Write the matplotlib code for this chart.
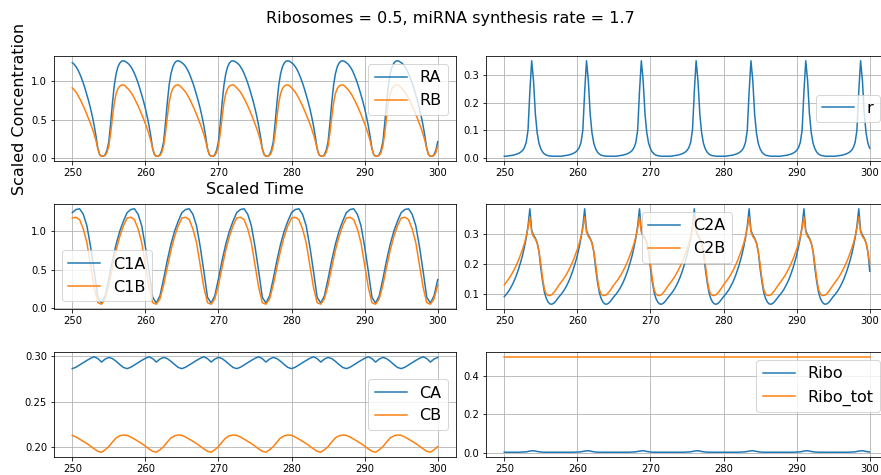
import numpy as np
import matplotlib
matplotlib.use("Agg")
import matplotlib.pyplot as plt

# time axes (scaled time)
t_coarse = np.arange(250.0, 300.001, 0.5)
t_fine = np.arange(250.0, 300.001, 0.25)

RA = [
    1.245, 1.225, 1.195, 1.155, 1.105, 1.045, 0.980, 0.905, 0.825, 0.740, 0.645, 0.540, 0.420, 0.280, 0.120,
    0.040, 0.020, 0.020, 0.040, 0.100, 0.210, 0.450, 0.720, 0.950, 1.100, 1.190, 1.240, 1.265, 1.270, 1.262,
    1.245, 1.225, 1.195, 1.155, 1.105, 1.045, 0.980, 0.905, 0.825, 0.740, 0.645, 0.540, 0.420, 0.280, 0.120,
    0.040, 0.020, 0.020, 0.040, 0.100, 0.210, 0.450, 0.720, 0.950, 1.100, 1.190, 1.240, 1.265, 1.270, 1.262,
    1.245, 1.225, 1.195, 1.155, 1.105, 1.045, 0.980, 0.905, 0.825, 0.740, 0.645, 0.540, 0.420, 0.280, 0.120,
    0.040, 0.020, 0.020, 0.040, 0.100, 0.210, 0.450, 0.720, 0.950, 1.100, 1.190, 1.240, 1.265, 1.270, 1.262,
    1.245, 1.225, 1.195, 1.155, 1.105, 1.045, 0.980, 0.905, 0.825, 0.740, 0.645, 0.540, 0.420, 0.280, 0.120,
    0.040, 0.020, 0.020, 0.040, 0.100, 0.210, 0.450, 0.720, 0.950, 1.100, 1.190, 1.240, 1.265, 1.270, 1.262,
    1.245, 1.225, 1.195, 1.155, 1.105, 1.045, 0.980, 0.905, 0.825, 0.740, 0.645, 0.540, 0.420, 0.280, 0.120,
    0.040, 0.020, 0.020, 0.040, 0.100, 0.210, 0.450, 0.720, 0.950, 1.100, 1.190, 1.240, 1.265, 1.270, 1.262,
    1.245, 1.225, 1.195, 1.155, 1.105, 1.045, 0.980, 0.905, 0.825, 0.740, 0.645, 0.540, 0.420, 0.280, 0.120,
    0.040, 0.020, 0.020, 0.040, 0.100, 0.210, 0.450, 0.720, 0.950, 1.100, 1.190, 1.240, 1.265, 1.270, 1.262,
    1.245, 1.225, 1.195, 1.155, 1.105, 1.045, 0.980, 0.905, 0.825, 0.740, 0.645, 0.540, 0.420, 0.280, 0.120,
    0.040, 0.020, 0.020, 0.040, 0.100, 0.210,
]
RB = [
    0.915, 0.890, 0.860, 0.822, 0.778, 0.730, 0.680, 0.625, 0.568, 0.508, 0.445, 0.378, 0.305, 0.220, 0.115,
    0.042, 0.021, 0.020, 0.030, 0.070, 0.155, 0.320, 0.530, 0.720, 0.840, 0.905, 0.938, 0.952, 0.955, 0.940,
    0.915, 0.890, 0.860, 0.822, 0.778, 0.730, 0.680, 0.625, 0.568, 0.508, 0.445, 0.378, 0.305, 0.220, 0.115,
    0.042, 0.021, 0.020, 0.030, 0.070, 0.155, 0.320, 0.530, 0.720, 0.840, 0.905, 0.938, 0.952, 0.955, 0.940,
    0.915, 0.890, 0.860, 0.822, 0.778, 0.730, 0.680, 0.625, 0.568, 0.508, 0.445, 0.378, 0.305, 0.220, 0.115,
    0.042, 0.021, 0.020, 0.030, 0.070, 0.155, 0.320, 0.530, 0.720, 0.840, 0.905, 0.938, 0.952, 0.955, 0.940,
    0.915, 0.890, 0.860, 0.822, 0.778, 0.730, 0.680, 0.625, 0.568, 0.508, 0.445, 0.378, 0.305, 0.220, 0.115,
    0.042, 0.021, 0.020, 0.030, 0.070, 0.155, 0.320, 0.530, 0.720, 0.840, 0.905, 0.938, 0.952, 0.955, 0.940,
    0.915, 0.890, 0.860, 0.822, 0.778, 0.730, 0.680, 0.625, 0.568, 0.508, 0.445, 0.378, 0.305, 0.220, 0.115,
    0.042, 0.021, 0.020, 0.030, 0.070, 0.155, 0.320, 0.530, 0.720, 0.840, 0.905, 0.938, 0.952, 0.955, 0.940,
    0.915, 0.890, 0.860, 0.822, 0.778, 0.730, 0.680, 0.625, 0.568, 0.508, 0.445, 0.378, 0.305, 0.220, 0.115,
    0.042, 0.021, 0.020, 0.030, 0.070, 0.155, 0.320, 0.530, 0.720, 0.840, 0.905, 0.938, 0.952, 0.955, 0.940,
    0.915, 0.890, 0.860, 0.822, 0.778, 0.730, 0.680, 0.625, 0.568, 0.508, 0.445, 0.378, 0.305, 0.220, 0.115,
    0.042, 0.021, 0.020, 0.030, 0.070, 0.155,
]
r = [
    0.005, 0.005, 0.006, 0.007, 0.008, 0.009, 0.011, 0.013, 0.016, 0.020, 0.026, 0.036, 0.055, 0.100, 0.240,
    0.352, 0.280, 0.160, 0.090, 0.052, 0.032, 0.020, 0.013, 0.009, 0.007, 0.006, 0.005, 0.005, 0.005, 0.005,
    0.005, 0.005, 0.006, 0.007, 0.008, 0.009, 0.011, 0.013, 0.016, 0.020, 0.026, 0.036, 0.055, 0.100, 0.240,
    0.352, 0.280, 0.160, 0.090, 0.052, 0.032, 0.020, 0.013, 0.009, 0.007, 0.006, 0.005, 0.005, 0.005, 0.005,
    0.005, 0.005, 0.006, 0.007, 0.008, 0.009, 0.011, 0.013, 0.016, 0.020, 0.026, 0.036, 0.055, 0.100, 0.240,
    0.352, 0.280, 0.160, 0.090, 0.052, 0.032, 0.020, 0.013, 0.009, 0.007, 0.006, 0.005, 0.005, 0.005, 0.005,
    0.005, 0.005, 0.006, 0.007, 0.008, 0.009, 0.011, 0.013, 0.016, 0.020, 0.026, 0.036, 0.055, 0.100, 0.240,
    0.352, 0.280, 0.160, 0.090, 0.052, 0.032, 0.020, 0.013, 0.009, 0.007, 0.006, 0.005, 0.005, 0.005, 0.005,
    0.005, 0.005, 0.006, 0.007, 0.008, 0.009, 0.011, 0.013, 0.016, 0.020, 0.026, 0.036, 0.055, 0.100, 0.240,
    0.352, 0.280, 0.160, 0.090, 0.052, 0.032, 0.020, 0.013, 0.009, 0.007, 0.006, 0.005, 0.005, 0.005, 0.005,
    0.005, 0.005, 0.006, 0.007, 0.008, 0.009, 0.011, 0.013, 0.016, 0.020, 0.026, 0.036, 0.055, 0.100, 0.240,
    0.352, 0.280, 0.160, 0.090, 0.052, 0.032, 0.020, 0.013, 0.009, 0.007, 0.006, 0.005, 0.005, 0.005, 0.005,
    0.005, 0.005, 0.006, 0.007, 0.008, 0.009, 0.011, 0.013, 0.016, 0.020, 0.026, 0.036, 0.055, 0.100, 0.240,
    0.352, 0.280, 0.160, 0.090, 0.052, 0.034,
]
C1A = [
    1.24, 1.28, 1.29, 1.22, 1.07, 0.80, 0.48, 0.14, 0.065, 0.16, 0.38, 0.62, 0.83, 1.00, 1.13,
    1.24, 1.28, 1.29, 1.22, 1.07, 0.80, 0.48, 0.14, 0.065, 0.16, 0.38, 0.62, 0.83, 1.00, 1.13,
    1.24, 1.28, 1.29, 1.22, 1.07, 0.80, 0.48, 0.14, 0.065, 0.16, 0.38, 0.62, 0.83, 1.00, 1.13,
    1.24, 1.28, 1.29, 1.22, 1.07, 0.80, 0.48, 0.14, 0.065, 0.16, 0.38, 0.62, 0.83, 1.00, 1.13,
    1.24, 1.28, 1.29, 1.22, 1.07, 0.80, 0.48, 0.14, 0.065, 0.16, 0.38, 0.62, 0.83, 1.00, 1.13,
    1.24, 1.28, 1.29, 1.22, 1.07, 0.80, 0.48, 0.14, 0.065, 0.16, 0.38, 0.62, 0.83, 1.00, 1.13,
    1.24, 1.28, 1.29, 1.22, 1.07, 0.80, 0.48, 0.14, 0.065, 0.16, 0.37,
]
C1B = [
    1.17, 1.18, 1.15, 1.03, 0.85, 0.56, 0.27, 0.07, 0.05, 0.12, 0.30, 0.53, 0.75, 0.93, 1.07,
    1.17, 1.18, 1.15, 1.03, 0.85, 0.56, 0.27, 0.07, 0.05, 0.12, 0.30, 0.53, 0.75, 0.93, 1.07,
    1.17, 1.18, 1.15, 1.03, 0.85, 0.56, 0.27, 0.07, 0.05, 0.12, 0.30, 0.53, 0.75, 0.93, 1.07,
    1.17, 1.18, 1.15, 1.03, 0.85, 0.56, 0.27, 0.07, 0.05, 0.12, 0.30, 0.53, 0.75, 0.93, 1.07,
    1.17, 1.18, 1.15, 1.03, 0.85, 0.56, 0.27, 0.07, 0.05, 0.12, 0.30, 0.53, 0.75, 0.93, 1.07,
    1.17, 1.18, 1.15, 1.03, 0.85, 0.56, 0.27, 0.07, 0.05, 0.12, 0.30, 0.53, 0.75, 0.93, 1.07,
    1.17, 1.18, 1.15, 1.03, 0.85, 0.56, 0.27, 0.07, 0.05, 0.12, 0.30,
]
C2A = [
    0.091, 0.098, 0.106, 0.115, 0.126, 0.138, 0.152, 0.168, 0.186, 0.206, 0.228, 0.255, 0.285, 0.325, 0.382,
    0.310, 0.295, 0.285, 0.270, 0.240, 0.185, 0.140, 0.105, 0.085, 0.073, 0.067, 0.066, 0.069, 0.075, 0.083,
    0.091, 0.098, 0.106, 0.115, 0.126, 0.138, 0.152, 0.168, 0.186, 0.206, 0.228, 0.255, 0.285, 0.325, 0.382,
    0.310, 0.295, 0.285, 0.270, 0.240, 0.185, 0.140, 0.105, 0.085, 0.073, 0.067, 0.066, 0.069, 0.075, 0.083,
    0.091, 0.098, 0.106, 0.115, 0.126, 0.138, 0.152, 0.168, 0.186, 0.206, 0.228, 0.255, 0.285, 0.325, 0.382,
    0.310, 0.295, 0.285, 0.270, 0.240, 0.185, 0.140, 0.105, 0.085, 0.073, 0.067, 0.066, 0.069, 0.075, 0.083,
    0.091, 0.098, 0.106, 0.115, 0.126, 0.138, 0.152, 0.168, 0.186, 0.206, 0.228, 0.255, 0.285, 0.325, 0.382,
    0.310, 0.295, 0.285, 0.270, 0.240, 0.185, 0.140, 0.105, 0.085, 0.073, 0.067, 0.066, 0.069, 0.075, 0.083,
    0.091, 0.098, 0.106, 0.115, 0.126, 0.138, 0.152, 0.168, 0.186, 0.206, 0.228, 0.255, 0.285, 0.325, 0.382,
    0.310, 0.295, 0.285, 0.270, 0.240, 0.185, 0.140, 0.105, 0.085, 0.073, 0.067, 0.066, 0.069, 0.075, 0.083,
    0.091, 0.098, 0.106, 0.115, 0.126, 0.138, 0.152, 0.168, 0.186, 0.206, 0.228, 0.255, 0.285, 0.325, 0.382,
    0.310, 0.295, 0.285, 0.270, 0.240, 0.185, 0.140, 0.105, 0.085, 0.073, 0.067, 0.066, 0.069, 0.075, 0.083,
    0.091, 0.098, 0.106, 0.115, 0.126, 0.138, 0.152, 0.168, 0.186, 0.206, 0.228, 0.255, 0.285, 0.325, 0.382,
    0.310, 0.295, 0.285, 0.270, 0.240, 0.175,
]
C2B = [
    0.130, 0.138, 0.146, 0.155, 0.165, 0.176, 0.188, 0.201, 0.215, 0.231, 0.248, 0.267, 0.290, 0.318, 0.355,
    0.305, 0.290, 0.282, 0.268, 0.240, 0.200, 0.150, 0.115, 0.100, 0.095, 0.095, 0.098, 0.104, 0.112, 0.121,
    0.130, 0.138, 0.146, 0.155, 0.165, 0.176, 0.188, 0.201, 0.215, 0.231, 0.248, 0.267, 0.290, 0.318, 0.355,
    0.305, 0.290, 0.282, 0.268, 0.240, 0.200, 0.150, 0.115, 0.100, 0.095, 0.095, 0.098, 0.104, 0.112, 0.121,
    0.130, 0.138, 0.146, 0.155, 0.165, 0.176, 0.188, 0.201, 0.215, 0.231, 0.248, 0.267, 0.290, 0.318, 0.355,
    0.305, 0.290, 0.282, 0.268, 0.240, 0.200, 0.150, 0.115, 0.100, 0.095, 0.095, 0.098, 0.104, 0.112, 0.121,
    0.130, 0.138, 0.146, 0.155, 0.165, 0.176, 0.188, 0.201, 0.215, 0.231, 0.248, 0.267, 0.290, 0.318, 0.355,
    0.305, 0.290, 0.282, 0.268, 0.240, 0.200, 0.150, 0.115, 0.100, 0.095, 0.095, 0.098, 0.104, 0.112, 0.121,
    0.130, 0.138, 0.146, 0.155, 0.165, 0.176, 0.188, 0.201, 0.215, 0.231, 0.248, 0.267, 0.290, 0.318, 0.355,
    0.305, 0.290, 0.282, 0.268, 0.240, 0.200, 0.150, 0.115, 0.100, 0.095, 0.095, 0.098, 0.104, 0.112, 0.121,
    0.130, 0.138, 0.146, 0.155, 0.165, 0.176, 0.188, 0.201, 0.215, 0.231, 0.248, 0.267, 0.290, 0.318, 0.355,
    0.305, 0.290, 0.282, 0.268, 0.240, 0.200, 0.150, 0.115, 0.100, 0.095, 0.095, 0.098, 0.104, 0.112, 0.121,
    0.130, 0.138, 0.146, 0.155, 0.165, 0.176, 0.188, 0.201, 0.215, 0.231, 0.248, 0.267, 0.290, 0.318, 0.355,
    0.305, 0.290, 0.282, 0.268, 0.240, 0.200,
]
CA = [
    0.2865, 0.2880, 0.2905, 0.2930, 0.2955, 0.2978, 0.2995, 0.2975, 0.2937, 0.2970, 0.2988, 0.2975, 0.2945, 0.2910, 0.2878,
    0.2865, 0.2880, 0.2905, 0.2930, 0.2955, 0.2978, 0.2995, 0.2975, 0.2937, 0.2970, 0.2988, 0.2975, 0.2945, 0.2910, 0.2878,
    0.2865, 0.2880, 0.2905, 0.2930, 0.2955, 0.2978, 0.2995, 0.2975, 0.2937, 0.2970, 0.2988, 0.2975, 0.2945, 0.2910, 0.2878,
    0.2865, 0.2880, 0.2905, 0.2930, 0.2955, 0.2978, 0.2995, 0.2975, 0.2937, 0.2970, 0.2988, 0.2975, 0.2945, 0.2910, 0.2878,
    0.2865, 0.2880, 0.2905, 0.2930, 0.2955, 0.2978, 0.2995, 0.2975, 0.2937, 0.2970, 0.2988, 0.2975, 0.2945, 0.2910, 0.2878,
    0.2865, 0.2880, 0.2905, 0.2930, 0.2955, 0.2978, 0.2995, 0.2975, 0.2937, 0.2970, 0.2988, 0.2975, 0.2945, 0.2910, 0.2878,
    0.2865, 0.2880, 0.2905, 0.2930, 0.2955, 0.2978, 0.2995, 0.2975, 0.2937, 0.2970, 0.2988,
]
CB = [
    0.2133, 0.2115, 0.2092, 0.2068, 0.2043, 0.2015, 0.1985, 0.1958, 0.1948, 0.1975, 0.2010, 0.2060, 0.2105, 0.2128, 0.2137,
    0.2133, 0.2115, 0.2092, 0.2068, 0.2043, 0.2015, 0.1985, 0.1958, 0.1948, 0.1975, 0.2010, 0.2060, 0.2105, 0.2128, 0.2137,
    0.2133, 0.2115, 0.2092, 0.2068, 0.2043, 0.2015, 0.1985, 0.1958, 0.1948, 0.1975, 0.2010, 0.2060, 0.2105, 0.2128, 0.2137,
    0.2133, 0.2115, 0.2092, 0.2068, 0.2043, 0.2015, 0.1985, 0.1958, 0.1948, 0.1975, 0.2010, 0.2060, 0.2105, 0.2128, 0.2137,
    0.2133, 0.2115, 0.2092, 0.2068, 0.2043, 0.2015, 0.1985, 0.1958, 0.1948, 0.1975, 0.2010, 0.2060, 0.2105, 0.2128, 0.2137,
    0.2133, 0.2115, 0.2092, 0.2068, 0.2043, 0.2015, 0.1985, 0.1958, 0.1948, 0.1975, 0.2010, 0.2060, 0.2105, 0.2128, 0.2137,
    0.2133, 0.2115, 0.2092, 0.2068, 0.2043, 0.2015, 0.1985, 0.1958, 0.1948, 0.1975, 0.2010,
]
Ribo = [
    0.003, 0.003, 0.003, 0.003, 0.003, 0.004, 0.005, 0.009, 0.011, 0.007, 0.004, 0.003, 0.003, 0.003, 0.003,
    0.003, 0.003, 0.003, 0.003, 0.003, 0.004, 0.005, 0.009, 0.011, 0.007, 0.004, 0.003, 0.003, 0.003, 0.003,
    0.003, 0.003, 0.003, 0.003, 0.003, 0.004, 0.005, 0.009, 0.011, 0.007, 0.004, 0.003, 0.003, 0.003, 0.003,
    0.003, 0.003, 0.003, 0.003, 0.003, 0.004, 0.005, 0.009, 0.011, 0.007, 0.004, 0.003, 0.003, 0.003, 0.003,
    0.003, 0.003, 0.003, 0.003, 0.003, 0.004, 0.005, 0.009, 0.011, 0.007, 0.004, 0.003, 0.003, 0.003, 0.003,
    0.003, 0.003, 0.003, 0.003, 0.003, 0.004, 0.005, 0.009, 0.011, 0.007, 0.004, 0.003, 0.003, 0.003, 0.003,
    0.003, 0.003, 0.003, 0.003, 0.003, 0.004, 0.005, 0.009, 0.011, 0.007, 0.004,
]
Ribo_tot_value = 0.5
Ribo_tot = [Ribo_tot_value] * len(t_coarse)

title = "Ribosomes = 0.5, miRNA synthesis rate = 1.7"
ticks_c2 = [0.1, 0.2, 0.3]
ticks_c = [0.20, 0.25, 0.30]

W, H = 881, 475
fig = plt.figure(figsize=(W / 72, H / 72), dpi=72)

def add_ax(x0, y_top, y_bot, w=402):
    return fig.add_axes([x0 / W, (H - y_bot) / H, w / W, (y_bot - y_top) / H])

ax1 = add_ax(54, 56, 161)
ax2 = add_ax(486, 56, 161)
ax3 = add_ax(54, 204, 309)
ax4 = add_ax(486, 204, 309)
ax5 = add_ax(54, 352, 457)
ax6 = add_ax(486, 352, 457)

ax1.plot(t_fine, RA, label="RA")
ax1.plot(t_fine, RB, label="RB")
ax1.legend(loc="upper right", fontsize=16)
ax1.set_xlabel("Scaled Time", fontsize=16)
ax1.set_ylabel("Scaled Concentration", fontsize=16)

ax2.plot(t_fine, r, label="r")
ax2.legend(loc="center right", fontsize=16)

ax3.plot(t_coarse, C1A, label="C1A")
ax3.plot(t_coarse, C1B, label="C1B")
ax3.legend(loc="lower left", fontsize=16)

ax4.plot(t_fine, C2A, label="C2A")
ax4.plot(t_fine, C2B, label="C2B")
ax4.set_yticks(ticks_c2)
ax4.legend(loc="upper center", fontsize=16)

ax5.plot(t_coarse, CA, label="CA")
ax5.plot(t_coarse, CB, label="CB")
ax5.set_yticks(ticks_c)
ax5.legend(loc="center right", fontsize=16)

ax6.plot(t_coarse, Ribo, label="Ribo")
ax6.plot(t_coarse, Ribo_tot, label="Ribo_tot")
ax6.legend(loc="upper right", fontsize=16)

for ax in (ax1, ax2, ax3, ax4, ax5, ax6):
    ax.grid(True)

fig.text(450 / W, 1 - 18 / H, title, ha="center", va="center", fontsize=16)

fig.savefig("out.png", dpi=72)
